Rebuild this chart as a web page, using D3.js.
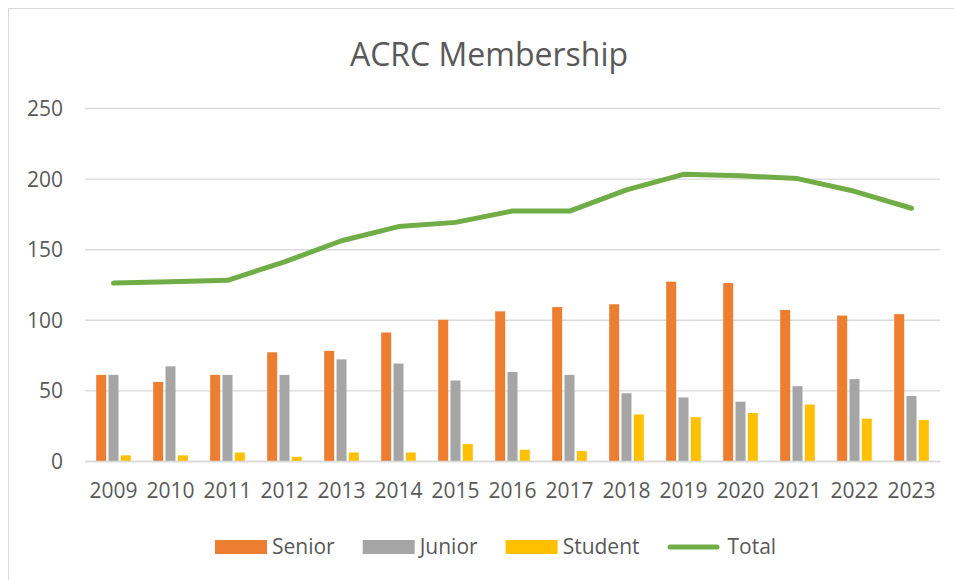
<!DOCTYPE html>
<html>
<head>
<meta charset="utf-8">
<script src="https://cdn.jsdelivr.net/npm/d3@7/dist/d3.min.js"></script>
<style>
  html, body { margin: 0; padding: 0; background: #fff; }
  svg { display: block; }
  text { font-family: "Open Sans", "Noto Sans", sans-serif; fill: #595959; }
</style>
</head>
<body>
<svg id="chart" width="954" height="580"></svg>
<script>
const years = ["2009","2010","2011","2012","2013","2014","2015","2016","2017","2018","2019","2020","2021","2022","2023"];
const senior  = [61, 56, 61, 77, 78, 91, 100, 106, 109, 111, 127, 126, 107, 103, 104];
const junior  = [61, 67, 61, 61, 72, 69, 57, 63, 61, 48, 45, 42, 53, 58, 46];
const student = [4, 4, 6, 3, 6, 6, 12, 8, 7, 33, 31, 34, 40, 30, 29];
const total   = [126, 127, 128, 141, 156, 166, 169, 177, 177, 192, 203, 202, 200, 191, 179];
const yTicks  = [0, 50, 100, 150, 200, 250];
const seriesNames = ["Senior", "Junior", "Student", "Total"];
const colors = { Senior: "#ED7D31", Junior: "#A5A5A5", Student: "#FFC000", Total: "#70AD47" };

(function () {
const svg = d3.select("#chart");

svg.append("rect").attr("x", 8.5).attr("y", 8.5).attr("width", 960).attr("height", 590)
  .attr("fill", "#fff").attr("stroke", "#d9d9d9").attr("stroke-width", 1);

const pLeft = 85, pRight = 940, pTop = 108, pBottom = 461;

const x0 = d3.scaleBand().domain(years).range([pLeft, pRight]).paddingInner(0.393).paddingOuter(0.1965);
const barSeries = ["Senior", "Junior", "Student"];
const x1 = d3.scaleBand().domain(barSeries).range([0, x0.bandwidth()]).paddingInner(0.187).paddingOuter(0);
const y = d3.scaleLinear().domain([0, 250]).range([pBottom, pTop]);

const yAxis = d3.axisLeft(y).tickValues(yTicks).tickSize(-(pRight - pLeft)).tickFormat(d3.format("d")).tickPadding(22);
const gy = svg.append("g").attr("transform", `translate(${pLeft},0)`).call(yAxis);
gy.select(".domain").remove();
gy.selectAll(".tick line").attr("stroke", "#d9d9d9").attr("stroke-width", 1.4);
gy.selectAll(".tick text").attr("font-size", 21).attr("fill", "#595959")
  .style("font-family", '"Open Sans", sans-serif').attr("dy", "0.36em");

const seriesData = { Senior: senior, Junior: junior, Student: student };
const gBars = svg.append("g");
barSeries.forEach(name => {
  gBars.selectAll(null).data(seriesData[name]).enter().append("rect")
    .attr("x", (d, i) => x0(years[i]) + x1(name))
    .attr("y", d => y(d))
    .attr("width", x1.bandwidth())
    .attr("height", d => y(0) - y(d))
    .attr("fill", colors[name]);
});

const xAxis = d3.axisBottom(x0).tickSize(0).tickPadding(22);
const gx = svg.append("g").attr("transform", `translate(0,${pBottom})`).call(xAxis);
gx.select(".domain").attr("stroke", "#d9d9d9").attr("stroke-width", 1.4);
gx.selectAll(".tick text").attr("font-size", 21).attr("fill", "#595959")
  .style("font-family", '"Open Sans", sans-serif');

const line = d3.line().x((d, i) => x0(years[i]) + x0.bandwidth() / 2).y(d => y(d));
svg.append("path").datum(total).attr("d", line).attr("fill", "none")
  .attr("stroke", colors.Total).attr("stroke-width", 5)
  .attr("stroke-linecap", "round").attr("stroke-linejoin", "round");

svg.append("text").attr("x", 489).attr("y", 66).attr("text-anchor", "middle")
  .attr("font-size", 32).text("ACRC Membership");

const lg = svg.append("g");
let lx = 215;
const ly = 547;
seriesNames.forEach(name => {
  if (name === "Total") {
    lg.append("line").attr("x1", lx + 2.5).attr("x2", lx + 52 - 2.5).attr("y1", ly).attr("y2", ly)
      .attr("stroke", colors.Total).attr("stroke-width", 5).attr("stroke-linecap", "round");
  } else {
    lg.append("rect").attr("x", lx).attr("y", ly - 7).attr("width", 52).attr("height", 14)
      .attr("fill", colors[name]);
  }
  const t = lg.append("text").attr("x", lx + (name === "Total" ? 60 : 57)).attr("y", 554)
    .attr("font-size", 21).text(name);
  const w = t.node().getComputedTextLength();
  lx = lx + 57 + w + 28;
});
})();
</script>
</body>
</html>
